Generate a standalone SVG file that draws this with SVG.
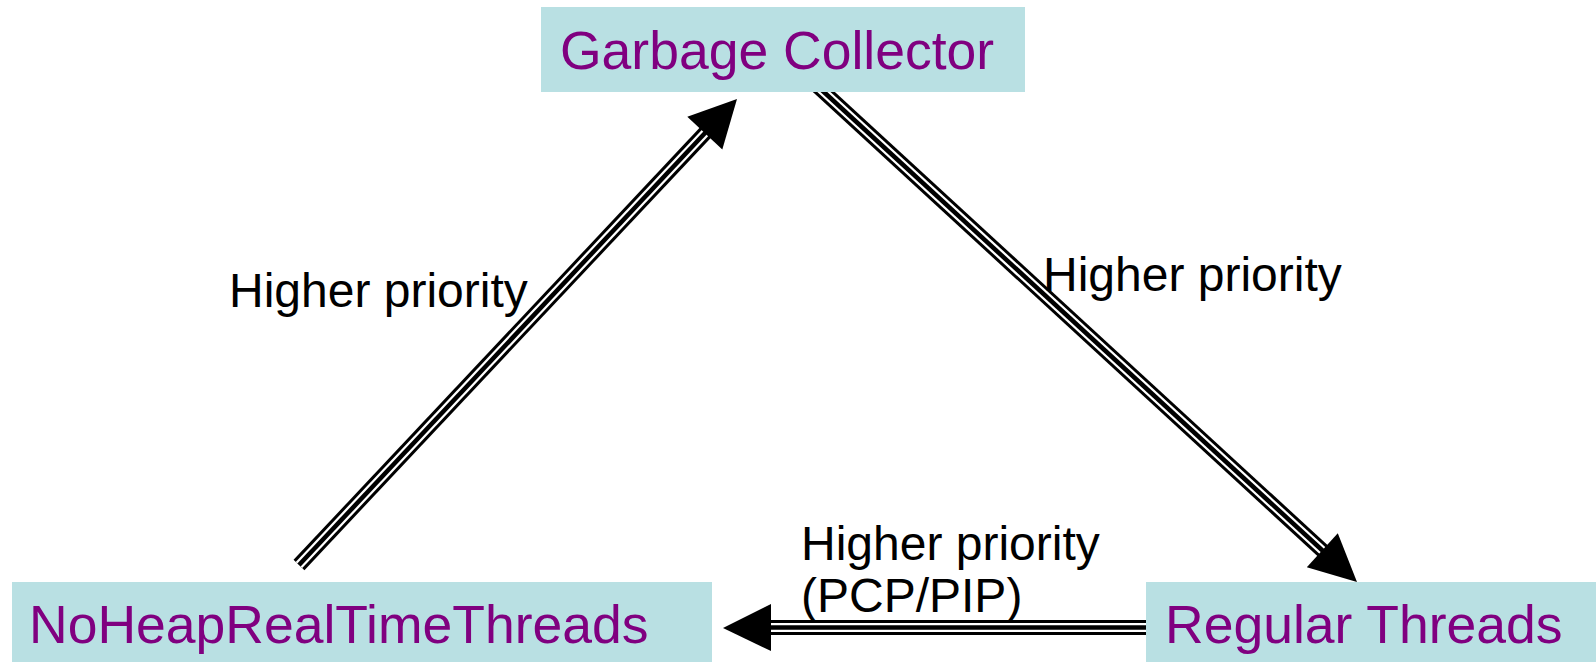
<svg xmlns="http://www.w3.org/2000/svg" xmlns:xlink="http://www.w3.org/1999/xlink" width="1596" height="662" viewBox="0 0 1596 662">
  <style>
    .box { fill: #b9e0e3; }
    .node-text { font-family: "Liberation Sans", Arial, sans-serif; font-size: 53.5px; fill: #800080; }
    .label { font-family: "Liberation Sans", Arial, sans-serif; font-size: 48px; fill: #000000; }
    .outer { fill: none; stroke: #000000; stroke-width: 15; }
    .gap { fill: none; stroke: #ffffff; stroke-width: 9; }
    .core { fill: none; stroke: #000000; stroke-width: 4.5; }
    .head { fill: #000000; }
  </style>
  <defs>
    <!-- centre lines of the three compound connectors -->
    <path id="line-nh-gc" d="M299,565 L706,132"/>
    <path id="line-gc-rt" d="M813,82 L1323,551"/>
    <path id="line-rt-nh" d="M1146,627.5 L770,627.5"/>
  </defs>

  <rect width="1596" height="662" fill="#ffffff"/>

  <g id="connectors">
    <!-- NoHeapRealTimeThreads -> Garbage Collector -->
    <use xlink:href="#line-nh-gc" class="outer"/>
    <use xlink:href="#line-nh-gc" class="gap"/>
    <use xlink:href="#line-nh-gc" class="core"/>
    <polygon class="head" points="737,99 687.3,116.8 722.3,149.6"/>

    <!-- Garbage Collector -> Regular Threads -->
    <use xlink:href="#line-gc-rt" class="outer"/>
    <use xlink:href="#line-gc-rt" class="gap"/>
    <use xlink:href="#line-gc-rt" class="core"/>
    <polygon class="head" points="1357,582 1337.8,533.3 1306.8,567.3"/>

    <!-- Regular Threads -> NoHeapRealTimeThreads -->
    <use xlink:href="#line-rt-nh" class="outer"/>
    <use xlink:href="#line-rt-nh" class="gap"/>
    <use xlink:href="#line-rt-nh" class="core"/>
    <polygon class="head" points="723,628 771,604 771,651"/>

    <text class="label" x="229" y="307">Higher priority</text>
    <text class="label" x="1043" y="291">Higher priority</text>
    <text class="label" x="801" y="560">Higher priority</text>
    <text class="label" x="801" y="612">(PCP/PIP)</text>
  </g>

  <g id="garbage-collector">
    <rect class="box" x="541" y="7" width="484" height="85"/>
    <text class="node-text" x="560" y="69">Garbage Collector</text>
  </g>

  <g id="noheap-realtime-threads">
    <rect class="box" x="12" y="582" width="700" height="80"/>
    <text class="node-text" x="29" y="643">NoHeapRealTimeThreads</text>
  </g>

  <g id="regular-threads">
    <rect class="box" x="1146" y="582" width="450" height="80"/>
    <text class="node-text" x="1165" y="643">Regular Threads</text>
  </g>
</svg>
